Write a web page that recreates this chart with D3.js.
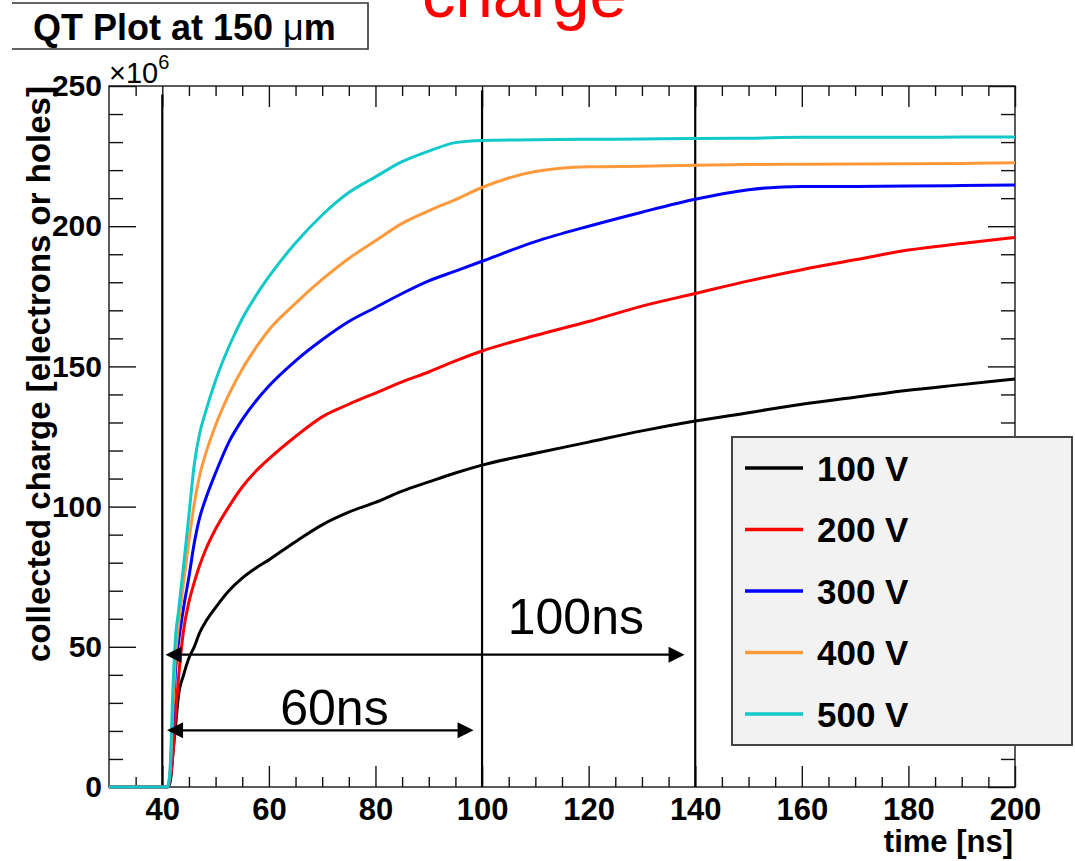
<!DOCTYPE html>
<html>
<head>
<meta charset="utf-8">
<script src="https://cdn.jsdelivr.net/npm/d3@7"></script>
<style>
  body { margin: 0; background: white; }
  svg { display: block; font-family: "Liberation Sans", Arial, Helvetica, sans-serif; }
</style>
</head>
<body>
<svg id="qt" width="1075" height="861"></svg>
<script>
// time samples [ns], shared by all bias voltages
const times = [30, 41, 41.5, 42, 42.5, 43, 44, 45, 46, 47, 48, 50, 52.5, 55, 57.5, 60, 65, 70, 75, 80,
               85, 90, 95, 100, 110, 120, 130, 140, 150, 160, 170, 180, 190, 200];

// collected charge, x10^6
const q100V = [0, 0, 2, 12, 22, 32, 40, 46, 50, 55, 58.5, 64, 70, 74.5, 78, 81, 87.5, 93.5, 98, 101.5,
               105.5, 108.8, 112, 114.8, 119, 123, 127, 130.5, 133.5, 136.5, 139, 141.5, 143.5, 145.5];
const q200V = [0, 0, 3, 12, 26, 38, 56, 66, 73, 79, 84, 92, 100, 107, 112.5, 117, 125, 132, 136.5, 140.5,
               144.5, 148, 152, 155.5, 161, 166, 171.5, 176, 180.5, 184.5, 188, 191.5, 193.8, 196];
const q300V = [0, 0, 5, 24, 42, 51, 64, 75, 87, 96, 102, 112, 123, 131, 137.5, 143, 152, 159.5, 166, 171,
               176, 180.5, 184, 187.5, 194.5, 200, 205, 209.6, 213, 214.2, 214.2, 214.3, 214.5, 214.7];
const q400V = [0, 0, 6, 28, 47, 57, 73, 88, 101, 111, 118, 129, 140, 149, 156.5, 163, 172.5, 181, 188.5, 194.8,
               201, 205.5, 209.5, 213.8, 219.5, 221.2, 221.4, 221.7, 222, 222.1, 222.2, 222.3, 222.4, 222.6];
const q500V = [0, 0, 8, 35, 54, 62, 79, 97, 115, 126, 133, 145, 157, 167, 175, 182, 194, 204, 212, 217.6,
               223, 226.8, 229.8, 230.6, 230.8, 231, 231.1, 231.3, 231.4, 231.7, 231.7, 231.7, 231.8, 231.8];

const seriesLabels = ["100 V", "200 V", "300 V", "400 V", "500 V"];
const seriesValues = [q100V, q200V, q300V, q400V, q500V];

const xTicks = [40, 60, 80, 100, 120, 140, 160, 180, 200];
const yTicks = [0, 50, 100, 150, 200, 250];

// marker lines and arrows (data units)
const markerTimes = [40, 100, 140];
const markerTops = [247, 248.5, 250];
const arrowStart = [40.6, 40.9];
const arrowEnd = [138, 98.4];
const arrowLevel = [47.2, 20.2];
const arrowLabels = ["100ns", "60ns"];
const arrowLabelTime = [117.6, 72.3];
const arrowLabelLevel = [54.6, 22];

const colors = ["#000000", "#ff0000", "#0000ff", "#ff9a3c", "#12c8c8"];
const font = `"Liberation Sans", Arial, sans-serif`;

const svg = d3.select("#qt");
const frame = {left: 109, right: 1015, top: 86, bottom: 787};

const x = d3.scaleLinear().domain([30, 200]).range([frame.left, frame.right]);
const y = d3.scaleLinear().domain([0, 250]).range([frame.bottom, frame.top]);

const minorX = d3.range(35, 200, 5).filter(d => d % 20 !== 0);
const minorY = d3.range(10, 250, 10).filter(d => d % 50 !== 0);

function styleAxis(sel) {
    sel.select(".domain").remove();
    sel.selectAll(".tick line").style("stroke", "#111").style("stroke-width", 1.4);
    sel.selectAll(".tick text")
        .style("font-family", font)
        .style("font-weight", "bold")
        .style("fill", "#000");
}

// frame
svg.append("rect")
    .attr("x", frame.left)
    .attr("y", frame.top)
    .attr("width", frame.right - frame.left)
    .attr("height", frame.bottom - frame.top)
    .style("fill", "none")
    .style("stroke", "#333")
    .style("stroke-width", 1.6);

// bottom axis
svg.append("g")
    .attr("transform", `translate(0, ${frame.bottom})`)
    .call(d3.axisBottom(x).tickValues(xTicks).tickSize(-21).tickPadding(11).tickFormat(d3.format("d")))
    .call(styleAxis)
    .selectAll(".tick text").style("font-size", "31px");

svg.append("g")
    .attr("transform", `translate(0, ${frame.bottom})`)
    .call(d3.axisBottom(x).tickValues(minorX).tickSize(-10).tickFormat(""))
    .call(styleAxis);

// top axis
svg.append("g")
    .attr("transform", `translate(0, ${frame.top})`)
    .call(d3.axisTop(x).tickValues(xTicks).tickSize(-21).tickFormat(""))
    .call(styleAxis);

svg.append("g")
    .attr("transform", `translate(0, ${frame.top})`)
    .call(d3.axisTop(x).tickValues(minorX).tickSize(-10).tickFormat(""))
    .call(styleAxis);

// left axis
svg.append("g")
    .attr("transform", `translate(${frame.left}, 0)`)
    .call(d3.axisLeft(y).tickValues(yTicks).tickSize(-27).tickPadding(7).tickFormat(d3.format("d")))
    .call(styleAxis)
    .selectAll(".tick text").style("font-size", "30px");

svg.append("g")
    .attr("transform", `translate(${frame.left}, 0)`)
    .call(d3.axisLeft(y).tickValues(minorY).tickSize(-14).tickFormat(""))
    .call(styleAxis);

// right axis
svg.append("g")
    .attr("transform", `translate(${frame.right}, 0)`)
    .call(d3.axisRight(y).tickValues(yTicks).tickSize(-27).tickFormat(""))
    .call(styleAxis);

svg.append("g")
    .attr("transform", `translate(${frame.right}, 0)`)
    .call(d3.axisRight(y).tickValues(minorY).tickSize(-14).tickFormat(""))
    .call(styleAxis);

// x10^6 multiplier
const mult = svg.append("text")
    .attr("x", frame.left)
    .attr("y", 83)
    .style("font-family", font)
    .style("font-size", "29px")
    .text("\u00d710");
mult.append("tspan")
    .attr("dy", -14)
    .style("font-size", "20px")
    .text("6");

// axis titles
svg.append("text")
    .attr("transform", `translate(50, ${(frame.top + 662) / 2}) rotate(-90)`)
    .attr("text-anchor", "middle")
    .style("font-family", font)
    .style("font-weight", "bold")
    .style("font-size", "33px")
    .text("collected charge [electrons or holes]");

svg.append("text")
    .attr("x", 1013)
    .attr("y", 852)
    .attr("text-anchor", "end")
    .style("font-family", font)
    .style("font-weight", "bold")
    .style("font-size", "31px")
    .text("time [ns]");

// vertical marker lines
svg.selectAll(".marker")
    .data(markerTimes)
    .enter()
    .append("line")
    .attr("class", "marker")
    .attr("x1", d => x(d))
    .attr("x2", d => x(d))
    .attr("y1", (d, i) => y(markerTops[i]))
    .attr("y2", y(0))
    .style("stroke", "#000")
    .style("stroke-width", 2.2);

// curves
const lineGen = d3.line()
    .x((d, i) => x(times[i]))
    .y(d => y(d))
    .curve(d3.curveMonotoneX);

seriesValues.forEach((vals, i) => {
    svg.append("path")
        .datum(vals)
        .attr("class", "curve")
        .attr("d", lineGen)
        .style("fill", "none")
        .style("stroke", colors[i])
        .style("stroke-width", 3);
});

// double headed arrows
arrowStart.forEach((start, i) => {
    const x1 = x(start), x2 = x(arrowEnd[i]), ay = y(arrowLevel[i]);
    const head = 16, half = 8;
    svg.append("line")
        .attr("x1", x1 + 4).attr("x2", x2 - 4)
        .attr("y1", ay).attr("y2", ay)
        .style("stroke", "#000")
        .style("stroke-width", 2.4);
    svg.append("path")
        .attr("d", `M${x1},${ay} L${x1 + head},${ay - half} L${x1 + head},${ay + half} Z`)
        .style("fill", "#000");
    svg.append("path")
        .attr("d", `M${x2},${ay} L${x2 - head},${ay - half} L${x2 - head},${ay + half} Z`)
        .style("fill", "#000");
    svg.append("text")
        .attr("x", x(arrowLabelTime[i]))
        .attr("y", y(arrowLabelLevel[i]))
        .attr("text-anchor", "middle")
        .style("font-family", font)
        .style("font-size", "50px")
        .text(arrowLabels[i]);
});

// legend
const legend = svg.append("g");
legend.append("rect")
    .attr("x", 732)
    .attr("y", 437)
    .attr("width", 340)
    .attr("height", 308)
    .style("fill", "#f2f2f2")
    .style("stroke", "#444")
    .style("stroke-width", 2);

const legendY = d3.scalePoint().domain(seriesLabels).range([468, 714]);

legend.selectAll(".legend-line")
    .data(seriesLabels)
    .enter()
    .append("line")
    .attr("x1", 745)
    .attr("x2", 803)
    .attr("y1", d => legendY(d))
    .attr("y2", d => legendY(d))
    .style("stroke", (d, i) => colors[i])
    .style("stroke-width", 3.5);

legend.selectAll(".legend-label")
    .data(seriesLabels)
    .enter()
    .append("text")
    .attr("x", 817)
    .attr("y", d => legendY(d))
    .attr("dy", "0.36em")
    .style("font-family", font)
    .style("font-weight", "bold")
    .style("font-size", "35px")
    .text(d => d);

// title box
svg.append("path")
    .attr("d", "M12,3 H368 V49 H12")
    .style("fill", "none")
    .style("stroke", "#333")
    .style("stroke-width", 1.6);

const title = svg.append("text")
    .attr("x", 33)
    .attr("y", 40)
    .style("font-family", font)
    .style("font-weight", "bold")
    .style("font-size", "36px")
    .text("QT Plot at 150 ");
title.append("tspan").style("font-weight", "normal").text("\u03bc");
title.append("tspan").text("m");

// red heading, cut by the top edge as in the source slide
svg.append("text")
    .attr("x", 422)
    .attr("y", 17)
    .style("font-family", font)
    .style("font-size", "67px")
    .style("fill", "#ff0000")
    .text("charge");
</script>
</body>
</html>
